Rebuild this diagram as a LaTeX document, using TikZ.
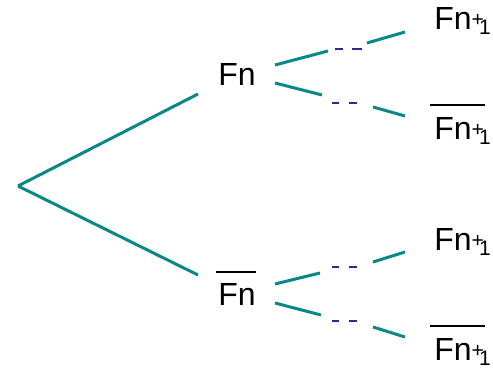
\documentclass[tikz,border=0pt]{standalone}
\usepackage{fontspec}
\setmainfont{Liberation Sans}
\definecolor{branchteal}{RGB}{10,135,135}
\definecolor{gapblue}{RGB}{40,40,150}
\newcommand{\nextev}{Fn{\fontsize{10.5}{11}\selectfont\raisebox{1.5pt}{+}\kern-2.5pt\raisebox{-2.5pt}{1}}}
\begin{document}
\begin{tikzpicture}[x=0.5pt,y=-0.5pt,
  branch/.style={draw=branchteal,line width=1.5pt},
  gapdash/.style={draw=gapblue,line width=0.9pt},
  lbl/.style={font=\fontsize{16}{18}\selectfont,inner sep=0pt,anchor=base west},
  negbar/.style={draw=black,line width=0.8pt}]
\useasboundingbox (0,0) rectangle (493,369);

% event labels
\node[lbl] (fn)    at (218,86)  {Fn};
\node[lbl] (fnbar) at (218,305) {Fn};
\node[lbl] (a1) at (434,30)  {\nextev};
\node[lbl] (a2) at (434,140) {\nextev};
\node[lbl] (b1) at (434,250) {\nextev};
\node[lbl] (b2) at (434,360) {\nextev};

% bars over complementary events
\draw[negbar] (216,272) -- (256,272);
\draw[negbar] (430,105) -- (485,105);
\draw[negbar] (430,326) -- (485,326);

% first level
\coordinate (root) at (18,186);
\draw[branch] (root) -- (198,94);
\draw[branch] (root) -- (198,275);

% second level, each split as solid -- gap -- solid
\draw[branch] (275,65) -- (328,51);
\draw[gapdash] (335,49) -- (343,49) (352,49) -- (362,49);
\draw[branch] (367,43) -- (405,32);

\draw[branch] (275,83) -- (322,95);
\draw[gapdash] (332,103) -- (339,103) (349,103) -- (357,103);
\draw[branch] (373,107) -- (405,116);

\draw[branch] (275,284) -- (320,273);
\draw[gapdash] (332,267) -- (339,267) (349,267) -- (357,267);
\draw[branch] (373,262) -- (405,252);

\draw[branch] (275,303) -- (321,315);
\draw[gapdash] (332,321) -- (339,321) (349,321) -- (357,321);
\draw[branch] (373,327) -- (405,337);
\end{tikzpicture}
\end{document}
